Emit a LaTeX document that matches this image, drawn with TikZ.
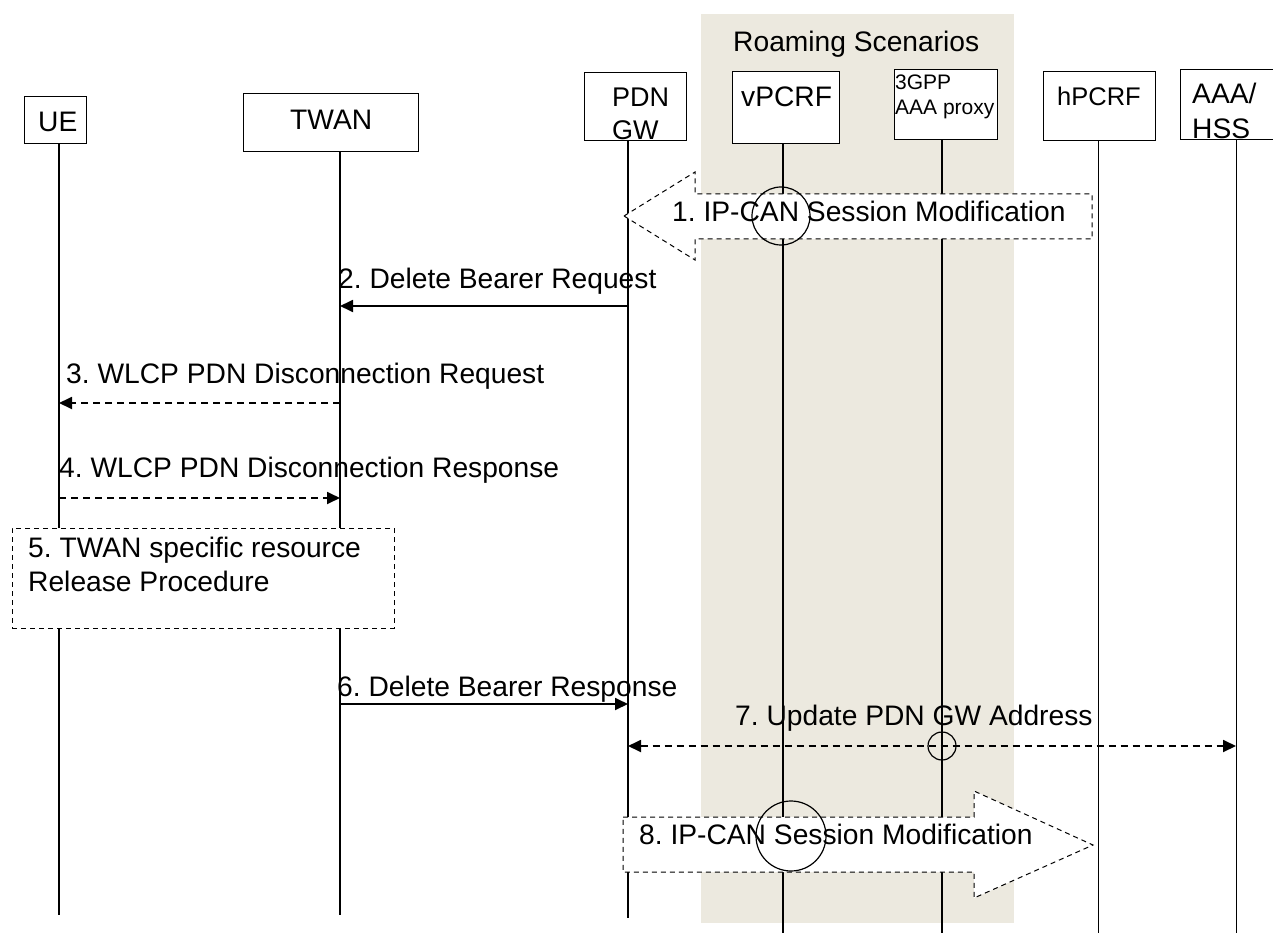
\documentclass[tikz,border=0pt]{standalone}
\usepackage{fontspec}
\setmainfont{Liberation Sans}
\usetikzlibrary{arrows.meta}
\definecolor{roam}{RGB}{236,233,223}
\frenchspacing
\begin{document}
\begin{tikzpicture}[x=1pt,y=-1pt,
  lbl/.style={font=\fontsize{28.2}{32}\selectfont, inner sep=0pt, anchor=base west},
  small/.style={font=\fontsize{21}{24}\selectfont, inner sep=0pt, anchor=base west},
  ent/.style={draw, line width=1pt, fill=white, inner sep=0pt},
  life/.style={line width=1.3pt},
  msg/.style={line width=1.8pt, -{Triangle[length=13pt,width=12pt]}},
  dmsg/.style={msg, dash pattern=on 7pt off 5pt},
  bigarrow/.style={draw, fill=white, line width=1pt, dash pattern=on 5pt off 4pt},
  hilite/.style={draw, line width=1.2pt}]
\useasboundingbox (0,0) rectangle (1273,933);
% roaming band
\fill[roam] (701,14) rectangle (1014,923);
\node[lbl] (roamt) at (733,52) {Roaming Scenarios};
% entity boxes
\node[ent, minimum width=62pt, minimum height=47pt] (ue) at (55,120.5) {};
\node[ent, minimum width=175pt, minimum height=58pt] (twan) at (330.5,123) {};
\node[ent, minimum width=102pt, minimum height=68pt] (pdn) at (635,107) {};
\node[ent, minimum width=107pt, minimum height=72pt] (vpcrf) at (785.5,108) {};
\node[ent, minimum width=103pt, minimum height=70pt] (prox) at (945.5,105) {};
\node[ent, minimum width=112pt, minimum height=69pt] (hpcrf) at (1099,106.5) {};
\node[ent, minimum width=110pt, minimum height=70pt] (aaa) at (1235,105) {};
% entity texts
\node[lbl] (uet) at (38,132) {UE};
\node[lbl] (twant) at (290,130) {TWAN};
\node[lbl, font=\fontsize{27}{30}\selectfont] (pdnt1) at (612,107) {PDN};
\node[lbl, font=\fontsize{27}{30}\selectfont] (pdnt2) at (612,140) {GW};
\node[lbl] (vpcrft) at (741,107) {vPCRF};
\node[small] (proxt1) at (895,90) {3GPP};
\node[small] (proxt2) at (895,115) {AAA proxy};
\node[lbl, font=\fontsize{25.5}{30}\selectfont] (hpcrft) at (1057,106) {hPCRF};
\node[lbl] (aaat1) at (1192,104) {AAA/};
\node[lbl] (aaat2) at (1192,139) {HSS};
% lifelines
\coordinate (ueL) at (59,915);
\coordinate (twanL) at (340,915);
\coordinate (pdnL) at (628,918);
\coordinate (vpcrfL) at (783,935);
\coordinate (proxL) at (942,935);
\coordinate (hpcrfL) at (1098,935);
\coordinate (aaaL) at (1236,935);
\draw[life] (ueL |- ue.south) -- (ueL);
\draw[life] (twanL |- twan.south) -- (twanL);
\draw[life] (pdnL |- pdn.south) -- (pdnL);
\draw[life, line width=1.7pt] (vpcrfL |- vpcrf.south) -- (vpcrfL);
\draw[life, line width=1.7pt] (proxL |- prox.south) -- (proxL);
\draw[life, line width=1pt] (hpcrfL |- hpcrf.south) -- (hpcrfL);
\draw[life, line width=1pt] (aaaL |- aaa.south) -- (aaaL);
% message end points
\coordinate (m2a) at (628,306); \coordinate (m2b) at (340,306);
\coordinate (m3a) at (340,403); \coordinate (m3b) at (59,403);
\coordinate (m4a) at (59,498);  \coordinate (m4b) at (340,498);
\coordinate (m6a) at (340,704); \coordinate (m6b) at (628,704);
\coordinate (m7a) at (628,746); \coordinate (m7b) at (1236,746);
% messages
\draw[msg] (m2a) -- (m2b);
\node[lbl] (l2) at (338,288) {2. Delete Bearer Request};
\draw[dmsg] (m3a) -- (m3b);
\node[lbl] (l3) at (66,383) {3. WLCP PDN Disconnection Request};
\draw[dmsg] (m4a) -- (m4b);
\node[lbl] (l4) at (59,477) {4. WLCP PDN Disconnection Response};
\draw[msg] (m6a) -- (m6b);
\node[lbl] (l6) at (337,696) {6. Delete Bearer Response};
\draw[dmsg, {Triangle[length=13pt,width=12pt]}-{Triangle[length=13pt,width=12pt]}] (m7a) -- (m7b);
\node[lbl] (l7) at (735,725) {7. Update PDN GW Address};
\draw[hilite] (942,746) circle[radius=14];
% step 5 box
\node[draw, fill=white, line width=1pt, dash pattern=on 5pt off 4pt,
      minimum width=382pt, minimum height=100pt, inner sep=0pt] (rel) at (203,578) {};
\node[lbl] (l5a) at (28,557) {5. TWAN specific resource};
\node[lbl] (l5b) at (28,591) {Release Procedure};
% step 1 hollow arrow
\draw[bigarrow] (624,216) -- (695,172) -- (695,194) -- (1092,194) -- (1092,239) -- (695,239) -- (695,260) -- cycle;
\draw[hilite] (781,216) circle[radius=29];
\node[lbl] (l1) at (672,222) {1. IP-CAN Session Modification};
% step 8 hollow arrow
\draw[bigarrow] (623,817) -- (974,817) -- (974,791) -- (1093,845) -- (974,898) -- (974,872) -- (623,872) -- cycle;
\draw[hilite] (791,836) circle[radius=35];
\node[lbl] (l8) at (639,844) {8. IP-CAN Session Modification};
\end{tikzpicture}
\end{document}
